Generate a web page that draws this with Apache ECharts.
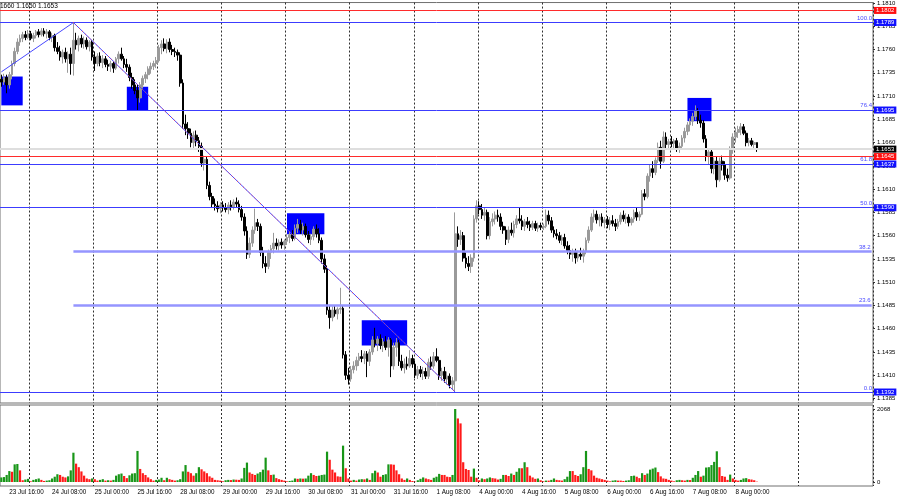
<!DOCTYPE html>
<html><head><meta charset="utf-8">
<script src="https://cdn.jsdelivr.net/npm/echarts@6/dist/echarts.min.js"></script>
<style>html,body{margin:0;padding:0;background:#fff}#c{width:900px;height:500px}</style>
</head><body><div id="c"></div>
<script>
// ---- data: per trading day, hourly bars [open, high, low, close, volume] ----
const dayNames = ['23 Jul','24 Jul','25 Jul','28 Jul','29 Jul','30 Jul','31 Jul','1 Aug','4 Aug','5 Aug','6 Aug','7 Aug','8 Aug'];
const firstHour = 13;
const futureDayNames = ['8 Aug','11 Aug','12 Aug'];
const jul23 = [
[1.1728,1.1733,1.1720,1.1725,130],[1.1725,1.1734,1.1722,1.1730,140],[1.1730,1.1733,1.1713,1.1722,200],
[1.1722,1.1736,1.1718,1.1733,310],[1.1733,1.1748,1.1728,1.1745,290],[1.1745,1.1762,1.1742,1.1758,500],
[1.1758,1.1772,1.1755,1.1768,510],[1.1768,1.1776,1.1764,1.1772,330],[1.1772,1.1779,1.1768,1.1776,50],
[1.1776,1.1780,1.1770,1.1773,70],[1.1773,1.1781,1.1771,1.1777,90]];
const jul24 = [
[1.1777,1.1780,1.1770,1.1772,20],[1.1772,1.1778,1.1768,1.1775,60],[1.1775,1.1781,1.1772,1.1779,80],
[1.1779,1.1782,1.1773,1.1776,100],[1.1776,1.1783,1.1774,1.1780,60],[1.1780,1.1783,1.1774,1.1777,30],
[1.1777,1.1782,1.1772,1.1779,40],[1.1779,1.1781,1.1770,1.1773,50],[1.1773,1.1778,1.1768,1.1775,100],
[1.1775,1.1777,1.1758,1.1762,150],[1.1762,1.1768,1.1755,1.1758,220],[1.1758,1.1764,1.1748,1.1752,200],
[1.1752,1.1760,1.1745,1.1757,150],[1.1757,1.1762,1.1746,1.1750,130],[1.1750,1.1758,1.1735,1.1755,160],
[1.1755,1.1762,1.1733,1.1745,330],[1.1745,1.1789,1.1732,1.1770,830],[1.1770,1.1778,1.1760,1.1765,520],
[1.1765,1.1775,1.1758,1.1772,420],[1.1772,1.1776,1.1762,1.1766,300],[1.1766,1.1774,1.1761,1.1770,180],
[1.1770,1.1773,1.1760,1.1763,100],[1.1763,1.1770,1.1758,1.1768,80],[1.1768,1.1770,1.1748,1.1752,100]];
const jul25 = [
[1.1752,1.1758,1.1737,1.1745,80],[1.1745,1.1756,1.1742,1.1753,40],[1.1753,1.1757,1.1742,1.1746,60],
[1.1746,1.1754,1.1740,1.1750,80],[1.1750,1.1753,1.1741,1.1744,40],[1.1744,1.1749,1.1737,1.1742,50],
[1.1742,1.1748,1.1736,1.1745,40],[1.1745,1.1747,1.1735,1.1740,60],[1.1740,1.1752,1.1738,1.1750,180],
[1.1750,1.1758,1.1745,1.1755,220],[1.1755,1.1762,1.1748,1.1750,240],[1.1750,1.1753,1.1740,1.1744,170],
[1.1744,1.1750,1.1736,1.1741,110],[1.1741,1.1744,1.1726,1.1730,190],[1.1730,1.1735,1.1718,1.1722,240],
[1.1722,1.1728,1.1712,1.1716,250],[1.1716,1.1722,1.1695,1.1708,880],[1.1708,1.1725,1.1703,1.1722,370],
[1.1722,1.1732,1.1718,1.1729,250],[1.1729,1.1736,1.1724,1.1733,200],[1.1733,1.1742,1.1728,1.1739,130],
[1.1739,1.1746,1.1734,1.1742,80],[1.1742,1.1748,1.1738,1.1745,40],[1.1745,1.1752,1.1740,1.1748,60]];
const jul28 = [
[1.1748,1.1765,1.1746,1.1762,70],[1.1762,1.1770,1.1755,1.1766,120],[1.1766,1.1772,1.1758,1.1761,50],
[1.1761,1.1771,1.1756,1.1768,120],[1.1768,1.1772,1.1757,1.1760,80],[1.1760,1.1765,1.1754,1.1758,60],
[1.1758,1.1762,1.1752,1.1757,40],[1.1757,1.1760,1.1748,1.1754,50],[1.1754,1.1757,1.1720,1.1724,80],
[1.1724,1.1728,1.1675,1.1680,300],[1.1680,1.1690,1.1668,1.1675,480],[1.1675,1.1682,1.1664,1.1670,290],
[1.1670,1.1675,1.1655,1.1660,250],[1.1660,1.1672,1.1652,1.1668,180],[1.1668,1.1673,1.1656,1.1662,250],
[1.1662,1.1666,1.1650,1.1656,420],[1.1656,1.1660,1.1634,1.1638,360],[1.1638,1.1646,1.1630,1.1642,300],
[1.1642,1.1645,1.1610,1.1614,250],[1.1614,1.1618,1.1598,1.1602,160],[1.1602,1.1606,1.1590,1.1594,120],
[1.1594,1.1600,1.1587,1.1592,60],[1.1592,1.1597,1.1585,1.1589,50],[1.1589,1.1596,1.1584,1.1593,40]];
const jul29 = [
[1.1593,1.1597,1.1586,1.1590,20],[1.1590,1.1595,1.1585,1.1588,50],[1.1588,1.1596,1.1583,1.1593,60],
[1.1593,1.1598,1.1587,1.1591,55],[1.1591,1.1599,1.1588,1.1596,70],[1.1596,1.1601,1.1590,1.1594,65],
[1.1594,1.1598,1.1585,1.1588,60],[1.1588,1.1592,1.1576,1.1580,100],[1.1580,1.1584,1.1560,1.1565,400],
[1.1565,1.1570,1.1535,1.1540,550],[1.1540,1.1558,1.1536,1.1552,270],[1.1552,1.1570,1.1548,1.1566,230],
[1.1566,1.1589,1.1562,1.1574,200],[1.1574,1.1578,1.1565,1.1570,240],[1.1570,1.1573,1.1538,1.1542,280],
[1.1542,1.1548,1.1525,1.1530,350],[1.1530,1.1538,1.1520,1.1527,690],[1.1527,1.1545,1.1524,1.1542,330],
[1.1542,1.1550,1.1535,1.1546,200],[1.1546,1.1563,1.1541,1.1552,210],[1.1552,1.1557,1.1545,1.1549,110],
[1.1549,1.1556,1.1544,1.1553,80],[1.1553,1.1557,1.1546,1.1550,60],[1.1550,1.1556,1.1545,1.1554,40]];
const jul30 = [
[1.1554,1.1562,1.1550,1.1558,20],[1.1558,1.1564,1.1552,1.1561,30],[1.1561,1.1566,1.1554,1.1557,40],
[1.1557,1.1572,1.1555,1.1568,100],[1.1568,1.1578,1.1563,1.1572,90],[1.1572,1.1577,1.1562,1.1566,100],
[1.1566,1.1574,1.1560,1.1570,95],[1.1570,1.1573,1.1558,1.1561,100],[1.1561,1.1565,1.1552,1.1556,180],
[1.1556,1.1562,1.1550,1.1559,250],[1.1559,1.1570,1.1555,1.1567,200],[1.1567,1.1572,1.1558,1.1562,170],
[1.1562,1.1568,1.1552,1.1555,180],[1.1555,1.1558,1.1530,1.1535,200],[1.1535,1.1540,1.1520,1.1524,210],
[1.1524,1.1528,1.1475,1.1480,860],[1.1480,1.1485,1.1460,1.1472,630],[1.1472,1.1484,1.1468,1.1480,350],
[1.1480,1.1485,1.1473,1.1476,270],[1.1476,1.1483,1.1470,1.1481,160],[1.1481,1.1504,1.1476,1.1482,150],
[1.1482,1.1485,1.1428,1.1432,1030],[1.1432,1.1436,1.1405,1.1410,390],[1.1410,1.1418,1.1400,1.1406,100]];
const jul31 = [
[1.1406,1.1420,1.1403,1.1416,40],[1.1416,1.1425,1.1412,1.1420,60],[1.1420,1.1430,1.1415,1.1426,40],
[1.1426,1.1434,1.1420,1.1430,70],[1.1430,1.1437,1.1424,1.1428,80],[1.1428,1.1436,1.1422,1.1433,75],
[1.1433,1.1436,1.1408,1.1425,100],[1.1425,1.1438,1.1420,1.1435,60],[1.1435,1.1452,1.1432,1.1448,250],
[1.1448,1.1461,1.1440,1.1444,320],[1.1444,1.1452,1.1436,1.1449,270],[1.1449,1.1454,1.1438,1.1442,150],
[1.1442,1.1450,1.1435,1.1446,200],[1.1446,1.1452,1.1437,1.1440,220],[1.1440,1.1451,1.1430,1.1448,500],
[1.1448,1.1450,1.1408,1.1420,500],[1.1420,1.1445,1.1416,1.1440,490],[1.1440,1.1450,1.1430,1.1445,330],
[1.1445,1.1448,1.1420,1.1425,220],[1.1425,1.1432,1.1415,1.1418,100],[1.1418,1.1428,1.1412,1.1422,60],
[1.1422,1.1430,1.1416,1.1420,100],[1.1420,1.1437,1.1418,1.1428,60],[1.1428,1.1432,1.1418,1.1422,30]];
const aug1 = [
[1.1422,1.1426,1.1407,1.1410,10],[1.1410,1.1420,1.1406,1.1416,50],[1.1416,1.1420,1.1408,1.1412,90],
[1.1412,1.1419,1.1405,1.1414,130],[1.1414,1.1418,1.1406,1.1409,100],[1.1409,1.1428,1.1406,1.1424,80],
[1.1424,1.1430,1.1416,1.1420,60],[1.1420,1.1435,1.1417,1.1430,120],[1.1430,1.1439,1.1424,1.1426,150],
[1.1426,1.1430,1.1405,1.1410,230],[1.1410,1.1418,1.1404,1.1414,200],[1.1414,1.1419,1.1402,1.1406,200],
[1.1406,1.1414,1.1400,1.1409,150],[1.1409,1.1412,1.1396,1.1400,140],[1.1400,1.1408,1.1395,1.1404,200],
[1.1404,1.1585,1.1392,1.1562,2068],[1.1562,1.1570,1.1548,1.1556,1800],[1.1556,1.1566,1.1550,1.1560,1660],
[1.1560,1.1564,1.1532,1.1536,560],[1.1536,1.1542,1.1525,1.1530,370],[1.1530,1.1538,1.1522,1.1527,340],
[1.1527,1.1540,1.1520,1.1536,150],[1.1536,1.1582,1.1532,1.1578,380],[1.1578,1.1598,1.1574,1.1592,120]];
const aug4 = [
[1.1592,1.1597,1.1583,1.1588,50],[1.1588,1.1594,1.1578,1.1582,100],[1.1582,1.1590,1.1576,1.1585,80],
[1.1585,1.1588,1.1556,1.1560,100],[1.1560,1.1580,1.1556,1.1575,130],[1.1575,1.1584,1.1570,1.1578,110],
[1.1578,1.1586,1.1572,1.1582,100],[1.1582,1.1588,1.1575,1.1580,70],[1.1580,1.1584,1.1566,1.1570,90],
[1.1570,1.1575,1.1562,1.1566,200],[1.1566,1.1570,1.1550,1.1556,200],[1.1556,1.1570,1.1552,1.1566,170],
[1.1566,1.1574,1.1560,1.1563,240],[1.1563,1.1576,1.1558,1.1572,200],[1.1572,1.1582,1.1568,1.1578,290],
[1.1578,1.1590,1.1573,1.1576,390],[1.1576,1.1582,1.1566,1.1570,390],[1.1570,1.1578,1.1565,1.1575,560],
[1.1575,1.1580,1.1568,1.1572,420],[1.1572,1.1576,1.1565,1.1569,180],[1.1569,1.1576,1.1566,1.1573,130],
[1.1573,1.1576,1.1565,1.1568,90],[1.1568,1.1574,1.1564,1.1571,100],[1.1571,1.1574,1.1566,1.1569,50]];
const aug5 = [
[1.1569,1.1573,1.1566,1.1570,20],[1.1570,1.1588,1.1568,1.1582,40],[1.1582,1.1587,1.1572,1.1576,40],
[1.1576,1.1580,1.1563,1.1566,60],[1.1566,1.1570,1.1558,1.1562,100],[1.1562,1.1567,1.1556,1.1560,60],
[1.1560,1.1564,1.1552,1.1555,50],[1.1555,1.1561,1.1550,1.1558,40],[1.1558,1.1562,1.1546,1.1549,80],
[1.1549,1.1554,1.1540,1.1544,150],[1.1544,1.1550,1.1535,1.1540,310],[1.1540,1.1546,1.1532,1.1542,310],
[1.1542,1.1546,1.1530,1.1536,200],[1.1536,1.1544,1.1532,1.1540,170],[1.1540,1.1547,1.1534,1.1538,220],
[1.1538,1.1546,1.1531,1.1543,420],[1.1543,1.1558,1.1540,1.1555,880],[1.1555,1.1570,1.1552,1.1566,370],
[1.1566,1.1584,1.1564,1.1580,330],[1.1580,1.1588,1.1574,1.1583,180],[1.1583,1.1587,1.1573,1.1577,120],
[1.1577,1.1583,1.1570,1.1580,100],[1.1580,1.1584,1.1570,1.1574,80],[1.1574,1.1580,1.1568,1.1577,60]];
const aug6 = [
[1.1577,1.1581,1.1568,1.1572,40],[1.1572,1.1580,1.1566,1.1576,20],[1.1576,1.1582,1.1570,1.1573,40],
[1.1573,1.1578,1.1565,1.1570,50],[1.1570,1.1578,1.1567,1.1575,40],[1.1575,1.1585,1.1572,1.1582,40],
[1.1582,1.1587,1.1575,1.1578,30],[1.1578,1.1584,1.1573,1.1580,40],[1.1580,1.1583,1.1570,1.1574,50],
[1.1574,1.1580,1.1571,1.1578,170],[1.1578,1.1588,1.1574,1.1585,180],[1.1585,1.1590,1.1576,1.1580,150],
[1.1580,1.1586,1.1576,1.1583,110],[1.1583,1.1609,1.1582,1.1605,250],[1.1605,1.1610,1.1598,1.1602,200],
[1.1602,1.1627,1.1600,1.1624,240],[1.1624,1.1636,1.1618,1.1632,350],[1.1632,1.1640,1.1622,1.1628,380],
[1.1628,1.1644,1.1625,1.1641,410],[1.1641,1.1660,1.1638,1.1655,280],[1.1655,1.1662,1.1632,1.1640,160],
[1.1640,1.1672,1.1638,1.1666,100],[1.1666,1.1671,1.1654,1.1658,90],[1.1658,1.1664,1.1652,1.1661,60]];
const aug7 = [
[1.1661,1.1667,1.1655,1.1659,40],[1.1659,1.1664,1.1653,1.1662,20],[1.1662,1.1665,1.1650,1.1654,50],
[1.1654,1.1660,1.1649,1.1656,60],[1.1656,1.1668,1.1654,1.1665,50],[1.1665,1.1676,1.1660,1.1672,40],
[1.1672,1.1682,1.1668,1.1679,60],[1.1679,1.1686,1.1672,1.1683,55],[1.1683,1.1692,1.1678,1.1688,120],
[1.1688,1.1700,1.1684,1.1694,200],[1.1694,1.1697,1.1680,1.1684,310],[1.1684,1.1690,1.1676,1.1681,150],
[1.1681,1.1684,1.1660,1.1664,180],[1.1664,1.1668,1.1640,1.1645,410],[1.1645,1.1654,1.1636,1.1650,420],
[1.1650,1.1654,1.1627,1.1632,480],[1.1632,1.1644,1.1626,1.1640,570],[1.1640,1.1645,1.1612,1.1620,870],
[1.1620,1.1644,1.1618,1.1640,420],[1.1640,1.1646,1.1630,1.1636,170],[1.1636,1.1640,1.1620,1.1625,150],
[1.1625,1.1632,1.1618,1.1622,60],[1.1622,1.1656,1.1620,1.1652,210],[1.1652,1.1670,1.1648,1.1666,100]];
const aug8 = [
[1.1666,1.1676,1.1660,1.1671,60],[1.1671,1.1678,1.1665,1.1674,40],[1.1674,1.1681,1.1668,1.1677,60],
[1.1677,1.1680,1.1668,1.1670,100],[1.1670,1.1673,1.1656,1.1660,110],[1.1660,1.1665,1.1656,1.1662,80],
[1.1662,1.1665,1.1656,1.1658,70],[1.1658,1.1662,1.1654,1.1660,50],[1.1660,1.1660,1.1650,1.1653,10]];

const priceTicks = [1.1385,1.1410,1.1435,1.1460,1.1485,1.1510,1.1535,1.1560,1.1585,1.1610,1.1635,1.1660,1.1685,1.1710,1.1735,1.1760,1.1785,1.1810];
const volumeTicks = [0, 2068];
const redLines = [1.1802, 1.1645];
const blueLines = [1.1789, 1.1695, 1.1637, 1.1590, 1.1392];
const bidPrice = 1.1653;
const swingHigh = 1.1789, swingLow = 1.1392;
const fibPercents = [0.0, 23.6, 38.2, 50.0, 61.8, 76.4, 100.0];
const fibStartBar = 27;
const trendPoints = [[0, 1.1736], [27, 1.1789], [170, 1.1392]]; // [bar index, price]
const zones = [[0, 8, 1.1731, 1.1700], [47, 55, 1.1720, 1.1695], [107, 121, 1.1584, 1.15615], [135, 152, 1.1469, 1.1442], [257, 266, 1.1708, 1.1683]];
const headerText = '1660 1.1650 1.1653';
const totalSlots = 327;

// ---- build ----
const days = [jul23, jul24, jul25, jul28, jul29, jul30, jul31, aug1, aug4, aug5, aug6, aug7, aug8];
const pad = n => (n < 10 ? '0' : '') + n;
const categories = [];
const bars = [];
days.forEach((d, k) => {
  const h0 = k === 0 ? firstHour : 0;
  d.forEach((b, j) => { categories.push(dayNames[k] + ' ' + pad(h0 + j) + ':00'); bars.push(b); });
});
const nData = bars.length;
{
  let k = 0, h = aug8.length;
  while (categories.length < totalSlots) {
    if (h > 23) { k++; h = 0; }
    categories.push(futureDayNames[k] + ' ' + pad(h) + ':00');
    h++;
  }
}
const vols = bars.map(b => b[4]);
const FONT = 'Liberation Sans';
const BLUE = '#3c3cff', RED = '#ff2b2b', LIGHTBLUE = '#9595ff', NOLINE = 'rgba(0,0,0,0)';
const GREEN_V = '#189618', RED_V = '#ff1a1a';

const sepInterval = (idx, val) => / 00:00$/.test(val) && idx <= 300;
const labelInterval = (idx) => idx < nData && (idx - 3) % 16 === 0 && idx >= 3;

const mk = [];
redLines.forEach(p => mk.push({ yAxis: p, lineStyle: { color: RED, width: 1, type: 'solid' } }));
mk.push({ yAxis: bidPrice, lineStyle: { color: '#dedede', width: 2, type: 'solid' } });
const range = swingHigh - swingLow;
fibPercents.forEach(pct => {
  const p = swingLow + pct / 100 * range;
  const lbl = { show: true, position: 'insideEndTop', formatter: pct.toFixed(1), color: '#4a4aff', fontSize: 6, fontFamily: FONT, distance: [1, 1] };
  const onLine = blueLines.some(b => Math.abs(b - p) < 0.00006);
  if (onLine) {
    mk.push({ yAxis: p, lineStyle: { color: NOLINE, width: 1 }, label: lbl });
  } else {
    mk.push([{ coord: [categories[fibStartBar], p], lineStyle: { color: LIGHTBLUE, width: 2.5, type: 'solid' }, label: lbl },
             { coord: [categories[totalSlots - 1], p] }]);
  }
});
blueLines.forEach(p => mk.push({ yAxis: p, lineStyle: { color: BLUE, width: 1, type: 'solid' } }));
// trend lines
mk.push([{ coord: [categories[trendPoints[0][0]], trendPoints[0][1]], lineStyle: { color: '#4848ff', width: 1, type: 'solid' } },
         { coord: [categories[trendPoints[1][0]], trendPoints[1][1]] }]);
mk.push([{ coord: [categories[trendPoints[1][0]], trendPoints[1][1]], lineStyle: { color: '#4848ff', width: 1, type: 'solid' } },
         { coord: [categories[trendPoints[2][0]], trendPoints[2][1]] }]);
mk.push([{ coord: [categories[trendPoints[1][0]], trendPoints[1][1]], lineStyle: { color: '#ff3b3b', width: 1, type: [1, 3] } },
         { coord: [categories[trendPoints[2][0]], trendPoints[2][1]] }]);
// price tags
const tag = (p, bg) => ({ yAxis: p, lineStyle: { color: NOLINE, width: 1 },
  label: { show: true, position: 'end', formatter: p.toFixed(4), color: '#fff', backgroundColor: bg, padding: [1, 2, 0, 2], fontSize: 6, fontFamily: FONT, distance: 1 } });
redLines.forEach(p => mk.push(tag(p, '#ff1010')));
blueLines.forEach(p => mk.push(tag(p, '#1010ff')));
mk.push(tag(bidPrice, '#000'));

const splitLineCfg = { show: true, interval: sepInterval, lineStyle: { color: '#303030', type: [2, 2], width: 1 } };

const option = {
  animation: false,
  backgroundColor: '#fff',
  grid: [
    { left: 0, right: 27, top: 2, height: 401, show: true, borderColor: '#707070', borderWidth: 1, backgroundColor: 'transparent' },
    { left: 0, right: 27, top: 405, height: 81, show: true, borderColor: '#707070', borderWidth: 1, backgroundColor: 'transparent' }
  ],
  xAxis: [
    { type: 'category', gridIndex: 0, data: categories, boundaryGap: true, axisLine: { show: false }, axisTick: { show: false }, axisLabel: { show: false }, splitLine: splitLineCfg },
    { type: 'category', gridIndex: 1, data: categories, boundaryGap: true, axisLine: { show: false }, axisTick: { show: false },
      axisLabel: { show: true, interval: labelInterval, align: 'left', fontSize: 6.3, fontFamily: FONT, color: '#000', margin: 3 }, splitLine: splitLineCfg }
  ],
  yAxis: [
    { type: 'value', gridIndex: 0, position: 'right', min: 1.13802, max: 1.18105, axisLine: { show: false }, splitLine: { show: false },
      axisTick: { show: true, length: 2, customValues: priceTicks, lineStyle: { color: '#303030' } },
      axisLabel: { customValues: priceTicks, formatter: v => v.toFixed(4), fontSize: 6, fontFamily: FONT, color: '#000', margin: 4 } },
    { type: 'value', gridIndex: 1, position: 'right', min: -113, max: 2181, axisLine: { show: false }, splitLine: { show: false },
      axisTick: { show: true, length: 2, customValues: volumeTicks, lineStyle: { color: '#303030' } },
      axisLabel: { customValues: volumeTicks, formatter: v => String(v), fontSize: 6, fontFamily: FONT, color: '#000', margin: 4 } }
  ],
  graphic: [{ type: 'text', left: 0, top: 3, z: 100, style: { text: headerText, fontSize: 6.5, fontFamily: FONT, fill: '#000' } }],
  series: [
    { type: 'line', xAxisIndex: 0, yAxisIndex: 0, data: [], z: 1, silent: true,
      markArea: { silent: true, itemStyle: { color: '#0000ff', opacity: 1 },
        data: zones.map(z => [{ coord: [categories[z[0]], z[2]] }, { coord: [categories[z[1]], z[3]] }]) } },
    { type: 'candlestick', xAxisIndex: 0, yAxisIndex: 0, z: 3, barWidth: 2.2,
      data: bars.map(b => [b[0], b[3], b[2], b[1]]),
      itemStyle: { color: '#9a9a9a', color0: '#000000', borderColor: '#9a9a9a', borderColor0: '#000000', borderWidth: 1 },
      markLine: { silent: true, precision: 5, symbol: ['none', 'none'], animation: false, label: { show: false }, data: mk } },
    { type: 'bar', xAxisIndex: 1, yAxisIndex: 1, barWidth: 2.2,
      data: vols.map((v, i) => ({ value: v, itemStyle: { color: (i === 0 || v > vols[i - 1]) ? GREEN_V : RED_V } })) }
  ]
};
const chart = echarts.init(document.getElementById('c'));
chart.setOption(option);
</script>
</body></html>
